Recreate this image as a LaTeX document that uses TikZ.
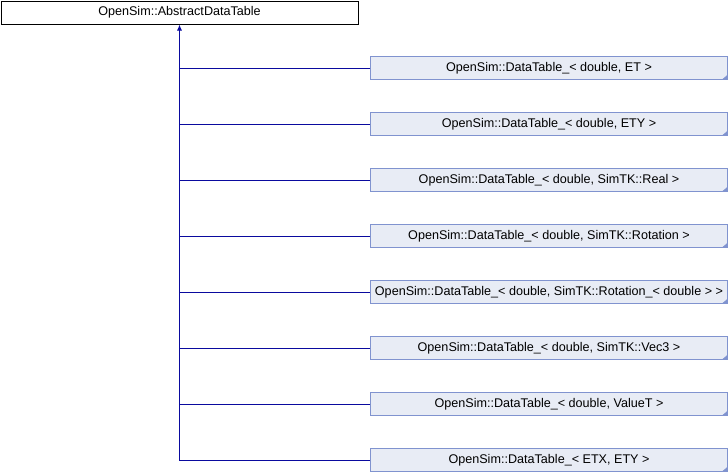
\documentclass[tikz,border=0pt]{standalone}
\usepackage{fontspec}
\setmainfont{Liberation Sans}
\usetikzlibrary{arrows.meta}
\definecolor{boxfill}{HTML}{E8ECF5}
\definecolor{boxline}{HTML}{8093CF}
\definecolor{edge}{HTML}{0A0A9E}
\tikzset{
  basebox/.style={draw=black, fill=white, line width=1pt, minimum width=357pt,
    minimum height=23pt, inner sep=0pt, anchor=north west, font=\fontsize{12.6}{14}\selectfont},
  childbox/.style={basebox, draw=boxline, fill=boxfill},
  conn/.style={draw=edge, line width=1pt},
}
\newcommand{\foldcorner}[1]{%
  \fill[boxline] ([xshift=-6pt,yshift=0.5pt]#1.south east) -- ([xshift=0.5pt,yshift=0.5pt]#1.south east) -- ([xshift=0.5pt,yshift=6pt]#1.south east) -- cycle;}
\begin{document}
\begin{tikzpicture}[x=1pt,y=-1pt]
\useasboundingbox (0,0) rectangle (728,472);
\node[basebox] (base) at (0.5,0.5) {OpenSim::AbstractDataTable};
\node[childbox] (c1) at (370,56) {OpenSim::DataTable\_< double, ET >};
\node[childbox] (c2) at (370,112) {OpenSim::DataTable\_< double, ETY >};
\node[childbox] (c3) at (370,168) {OpenSim::DataTable\_< double, SimTK::Real >};
\node[childbox] (c4) at (370,224) {OpenSim::DataTable\_< double, SimTK::Rotation >};
\node[childbox] (c5) at (370,280) {OpenSim::DataTable\_< double, SimTK::Rotation\_< double > >};
\node[childbox] (c6) at (370,336) {OpenSim::DataTable\_< double, SimTK::Vec3 >};
\node[childbox] (c7) at (370,392) {OpenSim::DataTable\_< double, ValueT >};
\node[childbox] (c8) at (370,448) {OpenSim::DataTable\_< ETX, ETY >};
\foreach \c in {c1,c2,c3,c4,c5,c6,c7,c8} {\foldcorner{\c}}
% inheritance trunk with the arrow into the base class
\draw[conn, {Latex[length=6pt,width=5pt]}-] (base.south) |- (c8.west);
\foreach \c in {c1,c2,c3,c4,c5,c6,c7} {
  \draw[conn] (\c.west) -- (\c.west -| base.south);
}
\end{tikzpicture}
\end{document}
